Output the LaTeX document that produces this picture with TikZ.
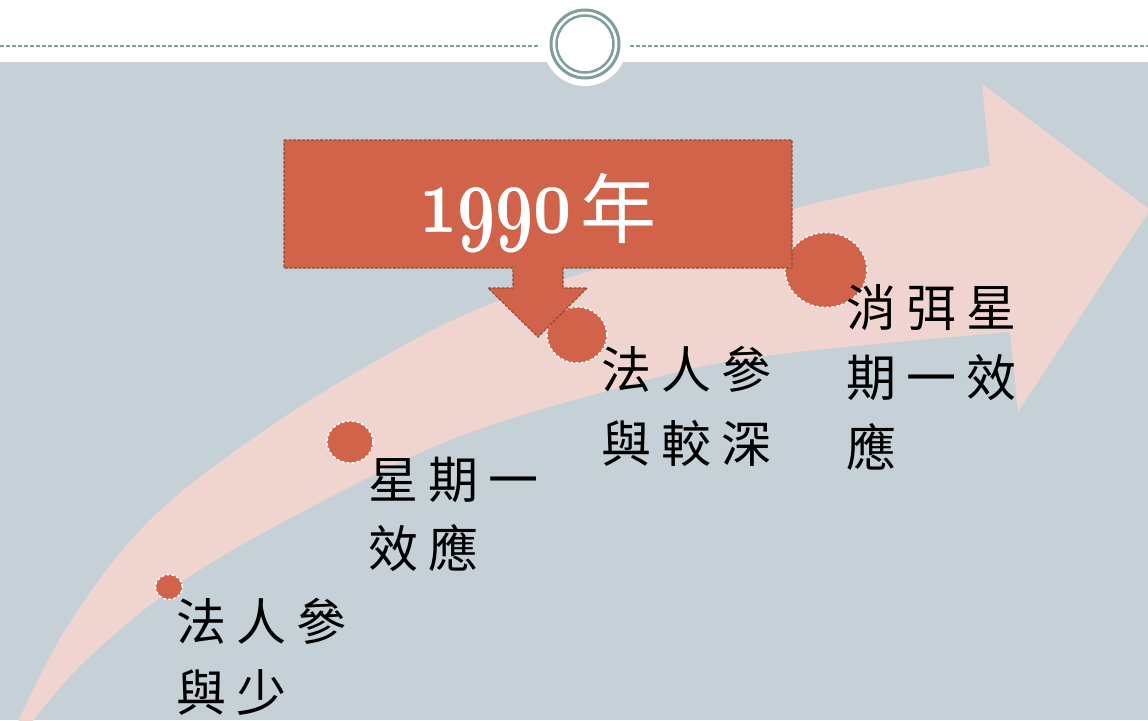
\documentclass[tikz,border=0pt]{standalone}
\usepackage{fontspec}
\newfontfamily\cjk{Noto Sans CJK TC}
\definecolor{bgblue}{HTML}{C5D1D7}
\definecolor{pinkarrow}{HTML}{F0D4CF}
\definecolor{rust}{HTML}{D0634A}
\definecolor{rustdark}{HTML}{9A4634}
\definecolor{teal}{HTML}{7D9E9B}
\newcommand\zc[1]{\makebox[60pt][l]{#1}}
\tikzset{
  dot/.style={fill=rust, draw=white, line width=1.5pt, dash pattern=on 3pt off 2pt},
  lbl/.style={anchor=base west, inner sep=0pt, font=\cjk\fontsize{50}{60}\selectfont, text=black},
  callout/.style={fill=rust, draw=rustdark, line width=1.1pt, dash pattern=on 3pt off 1.5pt},
  ring/.style={draw=teal, line width=3pt},
  sep/.style={draw=teal, line width=1.2pt, dash pattern=on 4pt off 2pt}
}
\begin{document}
\begin{tikzpicture}[x=1pt,y=-1pt]
\useasboundingbox (0,0) rectangle (1148,720);
\clip (0,0) rectangle (1148,720);
% background
\fill[white] (0,0) rectangle (1148,62);
\fill[bgblue] (0,62) rectangle (1148,720);
% big curved arrow
\fill[pinkarrow]
  plot[smooth, tension=0.6] coordinates {(12,735) (67,627) (150,520) (265,430) (383,357) (483,307) (600,268) (800,207) (990,166)}
  -- (982,84) -- (1150,210) -- (1018,412) -- (1010,332)
  -- plot[smooth, tension=0.6] coordinates {(1010,332) (750,358) (600,393) (450,440) (300,513) (180,583) (83,663) (22,735)}
  -- cycle;
% header
\fill[white] (585,44) circle[radius=42pt];
\draw[sep] (0,46) -- (540,46);
\draw[sep] (630,46) -- (1148,46);
\draw[ring] (585,44) circle[radius=34pt];
\draw[ring, line width=2.5pt] (585,44) circle[radius=28.5pt];
% dots
\draw[dot] (169,587) ellipse[x radius=13.5pt, y radius=12.5pt];
\draw[dot] (350,442) ellipse[x radius=23pt, y radius=21pt];
\draw[dot] (577,335) ellipse[x radius=30pt, y radius=28pt];
\draw[dot] (826,270) ellipse[x radius=41pt, y radius=37.5pt];
% callout
\draw[callout] (284,140) -- (792,140) -- (792,268) -- (563,268) -- (563,288) -- (587,288)
  -- (538,337) -- (488,288) -- (513,288) -- (513,268) -- (284,268) -- cycle;
\node[anchor=base west, inner sep=0pt, text=white, font=\fontsize{20}{24}\selectfont] (yr) at (419,232)
  {\scalebox{3.2}[4.7]{\boldmath$\mathnormal{1990}$}};
\node[anchor=base west, inner sep=0pt, text=white, font=\cjk\fontsize{76}{80}\selectfont] (nian) at (580,237) {年};
% labels
\node[lbl] (a1) at (176,640) {\zc{法}\zc{人}\zc{參}};
\node[lbl] (a2) at (176,711) {\zc{與}\zc{少}};
\node[lbl] (b1) at (368,498) {\zc{星}\zc{期}\zc{一}};
\node[lbl] (b2) at (368,567) {\zc{效}\zc{應}};
\node[lbl] (c1) at (601,388) {\zc{法}\zc{人}\zc{參}};
\node[lbl] (c2) at (601,462) {\zc{與}\zc{較}\zc{深}};
\node[lbl] (d1) at (846,326) {\zc{消}\zc{弭}\zc{星}};
\node[lbl] (d2) at (846,396) {\zc{期}\zc{一}\zc{效}};
\node[lbl] (d3) at (846,466) {\zc{應}};
\end{tikzpicture}
\end{document}
